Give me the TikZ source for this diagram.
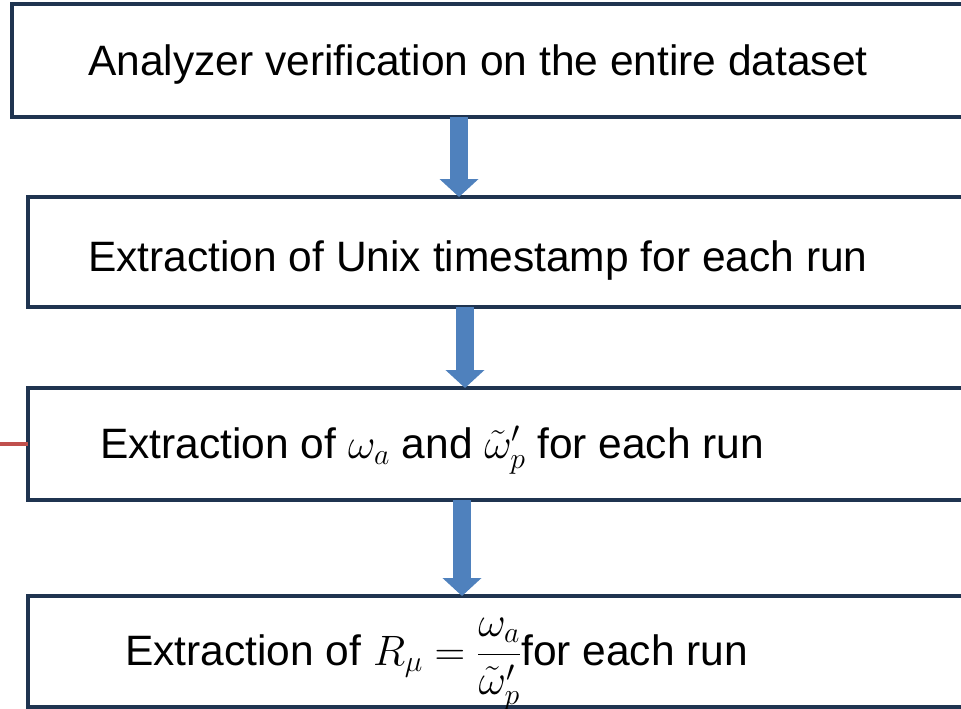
\RequirePackage{fix-cm}
\documentclass[tikz,border=0pt]{standalone}
\usepackage{fontspec}
\setmainfont{Liberation Sans}
\usetikzlibrary{arrows.meta}
\definecolor{boxline}{HTML}{1F3450}
\definecolor{arrblue}{HTML}{4F81BD}
\definecolor{redline}{HTML}{C0504D}
\tikzset{
  stepbox/.style={draw=boxline, line width=4pt, rectangle, inner sep=0pt, outer sep=0pt, anchor=north west},
  lbl/.style={anchor=base west, inner sep=0pt, font=\fontsize{42.5}{50}\selectfont},
  bigarrow/.style={draw=arrblue, line width=18pt, -{Triangle[width=38pt,length=18pt]}},
  side/.style={draw=redline, line width=4pt}
}
\begin{document}
\begin{tikzpicture}[x=1pt,y=1pt]
\useasboundingbox (0,0) rectangle (961,-709);
\clip (0,0) rectangle (961,-709);
\node[stepbox, minimum width=990pt, minimum height=113pt] (b1) at (12,-4) {};
\node[stepbox, minimum width=980pt, minimum height=110pt] (b2) at (28,-197) {};
\node[stepbox, minimum width=980pt, minimum height=112pt] (b3) at (28,-388) {};
\node[stepbox, minimum width=980pt, minimum height=111pt] (b4) at (28,-596) {};
\node[lbl] (t1) at (88,-75) {Analyzer verification on the entire dataset};
\node[lbl] (t2) at (88,-271) {Extraction of Unix timestamp for each run};
\node[lbl] (t3) at (100,-458) {Extraction of $\omega_a$ and $\tilde{\omega}'_p$ for each run};
\node[lbl] (t4) at (125,-665) {Extraction of $R_\mu={\displaystyle\frac{\omega_a}{\tilde{\omega}'_p}}$for each run};
\coordinate (x1) at (459,0);
\coordinate (x2) at (465,0);
\coordinate (x3) at (462,0);
\coordinate (r) at (0,0);
\draw[bigarrow] (b1.south -| x1) -- (b2.north -| x1);
\draw[bigarrow] (b2.south -| x2) -- (b3.north -| x2);
\draw[bigarrow] (b3.south -| x3) -- (b4.north -| x3);
\draw[side] (b3.west -| r) -- (b3.west);
\end{tikzpicture}
\end{document}
